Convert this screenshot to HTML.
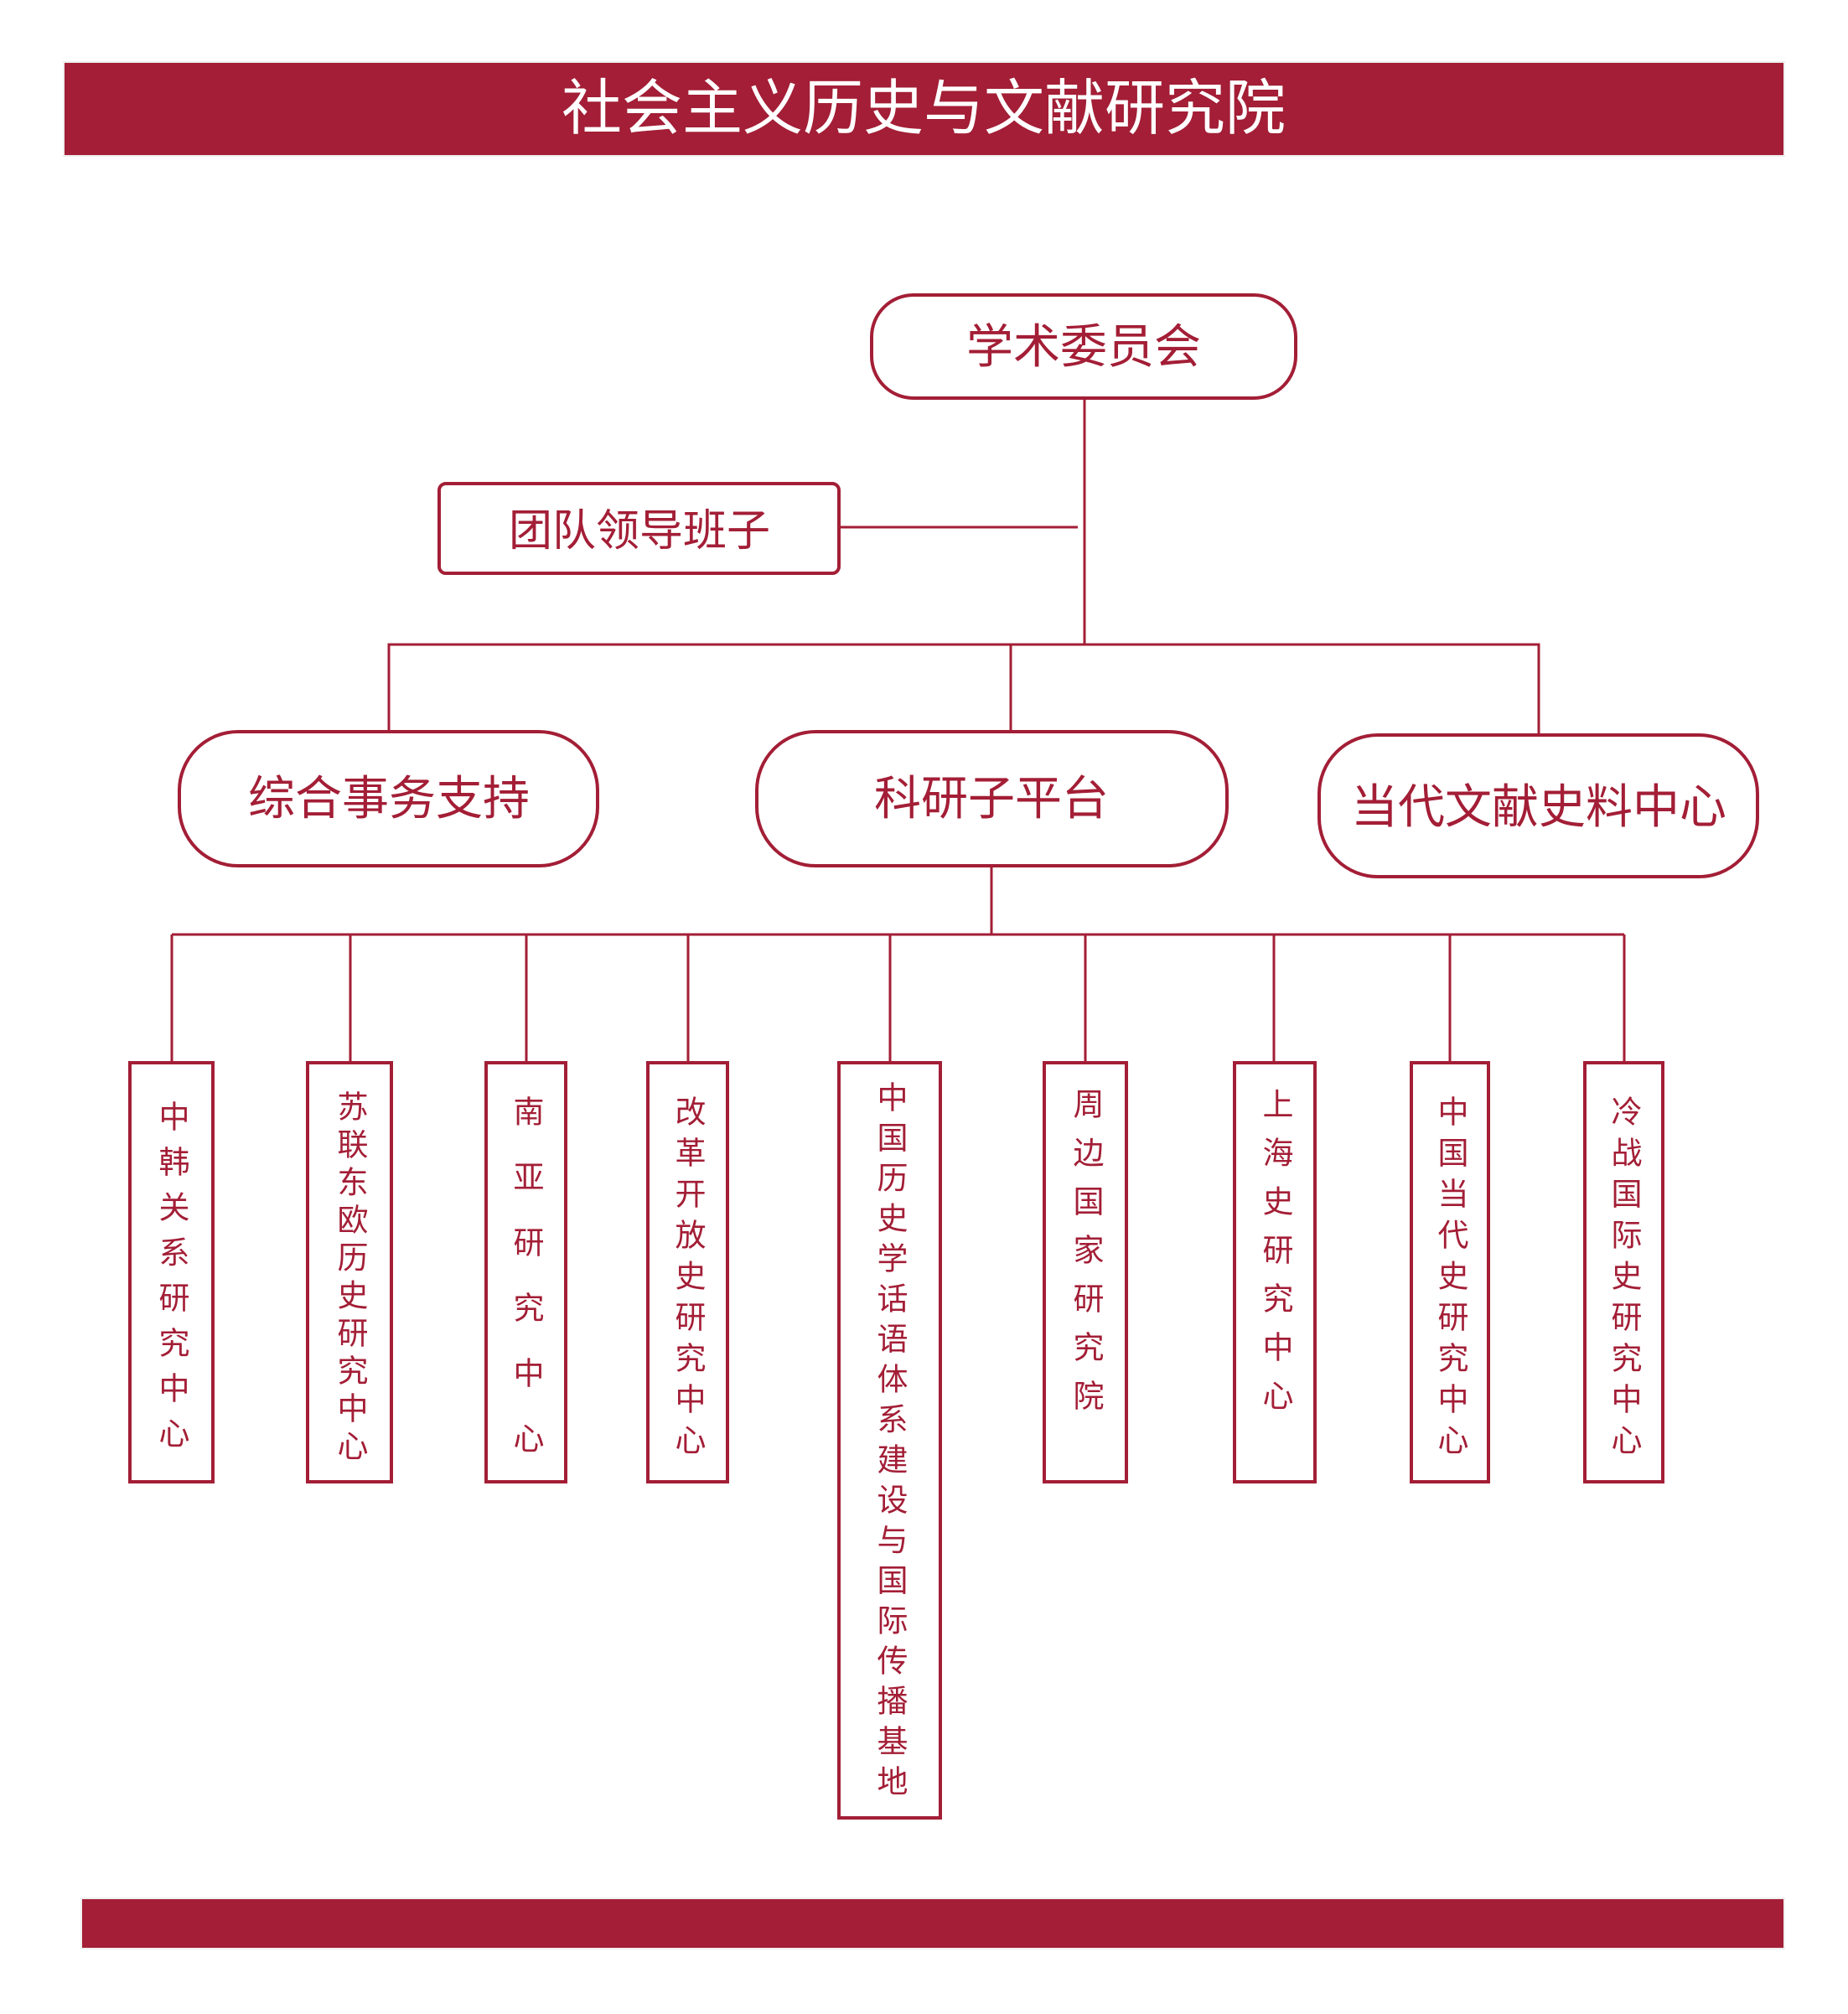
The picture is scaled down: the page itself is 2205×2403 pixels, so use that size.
<!DOCTYPE html>
<html><head><meta charset="utf-8">
<style>
body{margin:0;width:2205px;height:2403px;background:#fff;position:relative;overflow:hidden;font-family:"Liberation Sans","Noto Sans CJK SC",sans-serif;}
.v{position:absolute;writing-mode:vertical-rl;font-size:37px;line-height:37px;width:37px;color:#a31e36;white-space:nowrap;}
</style></head><body>
<svg width="2205" height="2403" style="position:absolute;left:0;top:0">
<g fill="#a31e36">
<rect x="75" y="73" width="2055" height="114" fill="#eee"/>
<rect x="77" y="75" width="2051" height="110"/>
<rect x="96" y="2264" width="2034" height="62" fill="#eee"/>
<rect x="98" y="2266" width="2030" height="58"/>
</g>
<text x="1102" y="154" font-size="72" fill="#fff" text-anchor="middle" font-family="Liberation Sans, Noto Sans CJK SC, sans-serif">社会主义历史与文献研究院</text>
<g stroke="#a31e36" stroke-width="3" fill="none">
<line x1="1294" y1="475" x2="1294" y2="770"/>
<line x1="1001" y1="629" x2="1286" y2="629"/>
<polyline points="464,873 464,769 1836,769 1836,877"/>
<line x1="1206" y1="769" x2="1206" y2="873"/>
<line x1="1183" y1="1033" x2="1183" y2="1115"/>
<line x1="205" y1="1115" x2="1938" y2="1115"/>
<line x1="205" y1="1115" x2="205" y2="1268"/>
<line x1="418" y1="1115" x2="418" y2="1268"/>
<line x1="628" y1="1115" x2="628" y2="1268"/>
<line x1="821" y1="1115" x2="821" y2="1268"/>
<line x1="1062" y1="1115" x2="1062" y2="1268"/>
<line x1="1295" y1="1115" x2="1295" y2="1268"/>
<line x1="1520" y1="1115" x2="1520" y2="1268"/>
<line x1="1730" y1="1115" x2="1730" y2="1268"/>
<line x1="1938" y1="1115" x2="1938" y2="1268"/>
</g>
<g stroke="#a31e36" stroke-width="4" fill="#fff">
<rect x="1040" y="352" width="506" height="123" rx="50"/>
<rect x="524" y="577" width="477" height="107" rx="8"/>
<rect x="214" y="873" width="499" height="160" rx="70"/>
<rect x="903" y="873" width="561" height="160" rx="70"/>
<rect x="1574" y="877" width="523" height="169" rx="70"/>
<rect x="155" y="1268" width="99" height="500"/>
<rect x="367" y="1268" width="100" height="500"/>
<rect x="580" y="1268" width="95" height="500"/>
<rect x="773" y="1268" width="95" height="500"/>
<rect x="1001" y="1268" width="121" height="901"/>
<rect x="1246" y="1268" width="98" height="500"/>
<rect x="1473" y="1268" width="96" height="500"/>
<rect x="1684" y="1268" width="92" height="500"/>
<rect x="1891" y="1268" width="93" height="500"/>
</g>
<g fill="#a31e36" text-anchor="middle" font-family="Liberation Sans, Noto Sans CJK SC, sans-serif">
<text x="1293" y="433" font-size="56">学术委员会</text>
<text x="763" y="651" font-size="52">团队领导班子</text>
<text x="464" y="972" font-size="56">综合事务支持</text>
<text x="1183" y="972" font-size="56">科研子平台</text>
<text x="1836" y="982" font-size="56">当代文献史料中心</text>
</g>
</svg>
<div class="v" style="left:186px;top:1313px;letter-spacing:17px">中韩关系研究中心</div>
<div class="v" style="left:399px;top:1301px;letter-spacing:8px">苏联东欧历史研究中心</div>
<div class="v" style="left:609px;top:1307px;letter-spacing:41px">南亚研究中心</div>
<div class="v" style="left:802px;top:1307px;letter-spacing:12px">改革开放史研究中心</div>
<div class="v" style="left:1043px;top:1290px;letter-spacing:11px">中国历史学话语体系建设与国际传播基地</div>
<div class="v" style="left:1277px;top:1298px;letter-spacing:21px">周边国家研究院</div>
<div class="v" style="left:1503px;top:1298px;letter-spacing:21px">上海史研究中心</div>
<div class="v" style="left:1712px;top:1307px;letter-spacing:12px">中国当代史研究中心</div>
<div class="v" style="left:1919px;top:1307px;letter-spacing:12px">冷战国际史研究中心</div>
</body></html>
